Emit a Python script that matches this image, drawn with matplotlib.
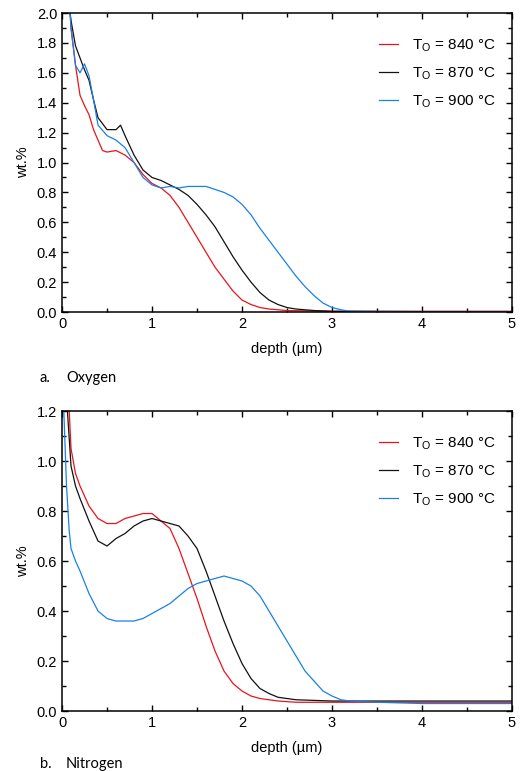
import matplotlib
matplotlib.use("Agg")
import matplotlib.pyplot as plt
from matplotlib.ticker import MultipleLocator

plt.rcParams['font.family'] = ['Liberation Sans', 'DejaVu Sans']

labels = ["T$_\\mathregular{O}$ = 840 °C", "T$_\\mathregular{O}$ = 870 °C", "T$_\\mathregular{O}$ = 900 °C"]
colors = ["#e8141b", "#111111", "#1a80e8"]

# oxygen profiles (depth in um, wt.%)
ox_x_840 = [0.09, 0.1, 0.15, 0.2, 0.25, 0.3, 0.35, 0.4, 0.45, 0.5, 0.6, 0.7, 0.8, 0.9, 1.0, 1.1, 1.2, 1.3,
            1.4, 1.5, 1.6, 1.7, 1.8, 1.9, 2.0, 2.1, 2.2, 2.3, 2.5, 3.0, 4.0, 5.0]
ox_y_840 = [2.0, 1.9, 1.65, 1.45, 1.38, 1.32, 1.22, 1.15, 1.08, 1.07, 1.08, 1.05, 1.0, 0.92, 0.86, 0.83, 0.78, 0.7,
            0.6, 0.5, 0.4, 0.3, 0.22, 0.14, 0.08, 0.05, 0.03, 0.02, 0.01, 0.005, 0.005, 0.005]

ox_x_870 = [0.09, 0.1, 0.15, 0.2, 0.25, 0.3, 0.35, 0.4, 0.5, 0.6, 0.65, 0.7, 0.8, 0.9, 1.0, 1.1, 1.2, 1.3, 1.4,
            1.5, 1.6, 1.7, 1.8, 1.9, 2.0, 2.1, 2.2, 2.3, 2.4, 2.5, 2.6, 2.8, 3.0, 4.0, 5.0]
ox_y_870 = [2.0, 1.95, 1.78, 1.7, 1.62, 1.55, 1.42, 1.3, 1.22, 1.22, 1.25, 1.18, 1.05, 0.95, 0.9, 0.88, 0.85, 0.82, 0.78,
            0.72, 0.65, 0.57, 0.47, 0.37, 0.28, 0.2, 0.13, 0.08, 0.05, 0.03, 0.02, 0.01, 0.005, 0.003, 0.003]

ox_x_900 = [0.09, 0.1, 0.15, 0.2, 0.25, 0.3, 0.35, 0.4, 0.5, 0.6, 0.7, 0.8, 0.9, 1.0, 1.1, 1.2, 1.3, 1.4, 1.5,
            1.6, 1.7, 1.8, 1.9, 2.0, 2.1, 2.2, 2.3, 2.4, 2.5, 2.6, 2.7, 2.8, 2.9, 3.0, 3.1, 3.2, 4.0, 5.0]
ox_y_900 = [2.0, 1.9, 1.65, 1.6, 1.66, 1.58, 1.42, 1.25, 1.18, 1.15, 1.1, 1.0, 0.9, 0.85, 0.83, 0.84, 0.83, 0.84, 0.84,
            0.84, 0.82, 0.8, 0.77, 0.72, 0.65, 0.56, 0.48, 0.4, 0.32, 0.24, 0.17, 0.11, 0.06, 0.03, 0.015, 0.005, 0.0, 0.0]

# nitrogen profiles
n_x_840 = [0.08, 0.1, 0.15, 0.2, 0.3, 0.4, 0.5, 0.6, 0.7, 0.8, 0.9, 1.0, 1.1, 1.2, 1.3, 1.4, 1.5, 1.6, 1.7,
           1.8, 1.9, 2.0, 2.1, 2.2, 2.4, 2.6, 3.0, 4.0, 5.0]
n_y_840 = [1.2, 1.05, 0.95, 0.9, 0.82, 0.77, 0.75, 0.75, 0.77, 0.78, 0.79, 0.79, 0.76, 0.73, 0.65, 0.55, 0.45, 0.34, 0.24,
           0.16, 0.11, 0.08, 0.06, 0.05, 0.04, 0.035, 0.035, 0.035, 0.035]

n_x_870 = [0.06, 0.1, 0.15, 0.2, 0.3, 0.4, 0.5, 0.6, 0.7, 0.8, 0.9, 1.0, 1.1, 1.2, 1.3, 1.4, 1.5, 1.6, 1.7,
           1.8, 1.9, 2.0, 2.1, 2.2, 2.3, 2.4, 2.6, 3.0, 4.0, 5.0]
n_y_870 = [1.2, 0.98, 0.9, 0.85, 0.76, 0.68, 0.66, 0.69, 0.71, 0.74, 0.76, 0.77, 0.76, 0.75, 0.74, 0.7, 0.65, 0.56, 0.46,
           0.36, 0.27, 0.19, 0.13, 0.09, 0.07, 0.055, 0.045, 0.04, 0.04, 0.04]

n_x_900 = [0.02, 0.05, 0.08, 0.1, 0.15, 0.2, 0.3, 0.4, 0.5, 0.6, 0.7, 0.8, 0.9, 1.0, 1.1, 1.2, 1.3, 1.4, 1.5,
           1.6, 1.7, 1.8, 1.9, 2.0, 2.1, 2.2, 2.3, 2.4, 2.5, 2.6, 2.7, 2.8, 2.9, 3.0, 3.1, 3.2, 3.5, 4.0, 5.0]
n_y_900 = [1.2, 0.9, 0.72, 0.65, 0.6, 0.56, 0.47, 0.4, 0.37, 0.36, 0.36, 0.36, 0.37, 0.39, 0.41, 0.43, 0.46, 0.49, 0.51,
           0.52, 0.53, 0.54, 0.53, 0.52, 0.5, 0.46, 0.4, 0.34, 0.28, 0.22, 0.16, 0.12, 0.08, 0.06, 0.045, 0.04, 0.035,
           0.03, 0.03]

fig = plt.figure(figsize=(5.26, 7.71), dpi=100)
ax1 = fig.add_axes([0.1179, 0.5953, 0.8555, 0.3878])
ax2 = fig.add_axes([0.1179, 0.0778, 0.8555, 0.3891])

ox = [(ox_x_840, ox_y_840), (ox_x_870, ox_y_870), (ox_x_900, ox_y_900)]
ni = [(n_x_840, n_y_840), (n_x_870, n_y_870), (n_x_900, n_y_900)]

for ax, data, ymax in [(ax1, ox, 2.0), (ax2, ni, 1.2)]:
    for (xs, ys), c, lab in zip(data, colors, labels):
        ax.plot(xs, ys, color=c, lw=0.9, label=lab)
    ax.set_xlim(0, 5)
    ax.set_ylim(0, ymax)
    ax.xaxis.set_major_locator(MultipleLocator(1))
    ax.xaxis.set_minor_locator(MultipleLocator(0.5))
    ax.yaxis.set_major_locator(MultipleLocator(0.2))
    ax.yaxis.set_minor_locator(MultipleLocator(0.1))
    ax.yaxis.set_major_formatter(matplotlib.ticker.FormatStrFormatter('%.1f'))
    ax.tick_params(which='both', direction='in', top=True, right=True, labelsize=10.5, width=1)
    ax.tick_params(which='major', length=4.5)
    ax.tick_params(which='minor', length=3)
    for s in ax.spines.values():
        s.set_linewidth(1.1)
    ax.set_xlabel("depth (µm)", fontsize=10.5, labelpad=8)
    ax.set_ylabel("wt.%", fontsize=10.5, labelpad=5)
    ax.legend(loc='upper right', bbox_to_anchor=(0.995, 0.965), frameon=False, fontsize=11,
              handlelength=1.3, handletextpad=0.9, labelspacing=0.75)

lab_font = ['Lato', 'DejaVu Sans']
fig.text(40 / 526, 1 - 378 / 771, "a.", fontsize=10.5, family=lab_font, va='center')
fig.text(66 / 526, 1 - 378 / 771, "Oxygen", fontsize=10.5, family=lab_font, va='center')
fig.text(40 / 526, 1 - 757 / 771, "b.", fontsize=10.5, family=lab_font, va='top')
fig.text(66 / 526, 1 - 757 / 771, "Nitrogen", fontsize=10.5, family=lab_font, va='top')

fig.savefig("out.png", dpi=100)
